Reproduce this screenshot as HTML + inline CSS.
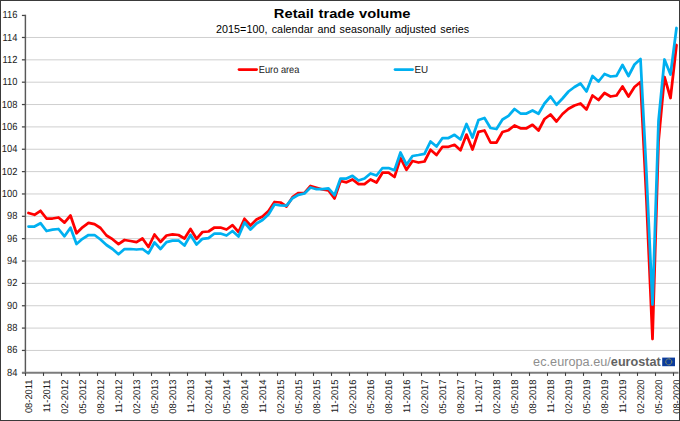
<!DOCTYPE html>
<html lang="en"><head><meta charset="utf-8"><title>Retail trade volume</title>
<style>
html,body{margin:0;padding:0;background:#fff;}
body{width:680px;height:421px;overflow:hidden;}
svg{display:block;font-family:"Liberation Sans",sans-serif;}
.g{stroke:#cfcfcf;stroke-width:1;}
.ax{stroke:#585858;stroke-width:1.45;}
.lab{font-size:10.3px;fill:#202020;text-rendering:geometricPrecision;}
.xl{font-size:9.7px;}
.title{font-size:14.7px;font-weight:bold;fill:#000;word-spacing:0.6px;}
.sub{font-size:10.75px;fill:#000;word-spacing:1.0px;letter-spacing:0.06px;}
.wm{font-size:12.65px;}
.s{fill:none;stroke-width:2.75;stroke-linejoin:round;stroke-linecap:round;}
</style></head><body>
<svg width="680" height="421" viewBox="0 0 680 421">
<rect width="680" height="421" fill="#fff"/>
<line x1="26" y1="350.44" x2="678.5" y2="350.44" class="g"/>
<line x1="26" y1="328.09" x2="678.5" y2="328.09" class="g"/>
<line x1="26" y1="305.74" x2="678.5" y2="305.74" class="g"/>
<line x1="26" y1="283.38" x2="678.5" y2="283.38" class="g"/>
<line x1="26" y1="261.02" x2="678.5" y2="261.02" class="g"/>
<line x1="26" y1="238.67" x2="678.5" y2="238.67" class="g"/>
<line x1="26" y1="216.31" x2="678.5" y2="216.31" class="g"/>
<line x1="26" y1="193.96" x2="678.5" y2="193.96" class="g"/>
<line x1="26" y1="171.61" x2="678.5" y2="171.61" class="g"/>
<line x1="26" y1="149.25" x2="678.5" y2="149.25" class="g"/>
<line x1="26" y1="126.90" x2="678.5" y2="126.90" class="g"/>
<line x1="26" y1="104.54" x2="678.5" y2="104.54" class="g"/>
<line x1="26" y1="82.19" x2="678.5" y2="82.19" class="g"/>
<line x1="26" y1="59.83" x2="678.5" y2="59.83" class="g"/>
<line x1="26" y1="37.48" x2="678.5" y2="37.48" class="g"/>
<line x1="21.9" y1="372.80" x2="25.5" y2="372.80" style="stroke:#444;stroke-width:1.25"/>
<text transform="translate(17.4,376) scale(0.905,1)" class="lab" text-anchor="end">84</text>
<line x1="21.9" y1="350.44" x2="25.5" y2="350.44" style="stroke:#444;stroke-width:1.25"/>
<text transform="translate(17.4,353) scale(0.905,1)" class="lab" text-anchor="end">86</text>
<line x1="21.9" y1="328.09" x2="25.5" y2="328.09" style="stroke:#444;stroke-width:1.25"/>
<text transform="translate(17.4,331) scale(0.905,1)" class="lab" text-anchor="end">88</text>
<line x1="21.9" y1="305.74" x2="25.5" y2="305.74" style="stroke:#444;stroke-width:1.25"/>
<text transform="translate(17.4,309) scale(0.905,1)" class="lab" text-anchor="end">90</text>
<line x1="21.9" y1="283.38" x2="25.5" y2="283.38" style="stroke:#444;stroke-width:1.25"/>
<text transform="translate(17.4,286) scale(0.905,1)" class="lab" text-anchor="end">92</text>
<line x1="21.9" y1="261.02" x2="25.5" y2="261.02" style="stroke:#444;stroke-width:1.25"/>
<text transform="translate(17.4,264) scale(0.905,1)" class="lab" text-anchor="end">94</text>
<line x1="21.9" y1="238.67" x2="25.5" y2="238.67" style="stroke:#444;stroke-width:1.25"/>
<text transform="translate(17.4,242) scale(0.905,1)" class="lab" text-anchor="end">96</text>
<line x1="21.9" y1="216.31" x2="25.5" y2="216.31" style="stroke:#444;stroke-width:1.25"/>
<text transform="translate(17.4,219) scale(0.905,1)" class="lab" text-anchor="end">98</text>
<line x1="21.9" y1="193.96" x2="25.5" y2="193.96" style="stroke:#444;stroke-width:1.25"/>
<text transform="translate(17.4,197) scale(0.905,1)" class="lab" text-anchor="end">100</text>
<line x1="21.9" y1="171.61" x2="25.5" y2="171.61" style="stroke:#444;stroke-width:1.25"/>
<text transform="translate(17.4,175) scale(0.905,1)" class="lab" text-anchor="end">102</text>
<line x1="21.9" y1="149.25" x2="25.5" y2="149.25" style="stroke:#444;stroke-width:1.25"/>
<text transform="translate(17.4,152) scale(0.905,1)" class="lab" text-anchor="end">104</text>
<line x1="21.9" y1="126.90" x2="25.5" y2="126.90" style="stroke:#444;stroke-width:1.25"/>
<text transform="translate(17.4,130) scale(0.905,1)" class="lab" text-anchor="end">106</text>
<line x1="21.9" y1="104.54" x2="25.5" y2="104.54" style="stroke:#444;stroke-width:1.25"/>
<text transform="translate(17.4,108) scale(0.905,1)" class="lab" text-anchor="end">108</text>
<line x1="21.9" y1="82.19" x2="25.5" y2="82.19" style="stroke:#444;stroke-width:1.25"/>
<text transform="translate(17.4,85) scale(0.905,1)" class="lab" text-anchor="end">110</text>
<line x1="21.9" y1="59.83" x2="25.5" y2="59.83" style="stroke:#444;stroke-width:1.25"/>
<text transform="translate(17.4,63) scale(0.905,1)" class="lab" text-anchor="end">112</text>
<line x1="21.9" y1="37.48" x2="25.5" y2="37.48" style="stroke:#444;stroke-width:1.25"/>
<text transform="translate(17.4,41) scale(0.905,1)" class="lab" text-anchor="end">114</text>
<line x1="21.9" y1="15.45" x2="25.5" y2="15.45" style="stroke:#444;stroke-width:1.25"/>
<text transform="translate(17.4,18) scale(0.905,1)" class="lab" text-anchor="end">116</text>
<line x1="25.4" y1="14.65" x2="25.4" y2="373.5" class="ax"/>
<line x1="22" y1="372.8" x2="678.5" y2="372.8" style="stroke:#7c7c7c;stroke-width:2"/>
<line x1="25.5" y1="372.6" x2="25.5" y2="375.90000000000003" style="stroke:#3c3c3c;stroke-width:1.1"/>
<line x1="43.5" y1="372.6" x2="43.5" y2="375.90000000000003" style="stroke:#3c3c3c;stroke-width:1.1"/>
<line x1="61.5" y1="372.6" x2="61.5" y2="375.90000000000003" style="stroke:#3c3c3c;stroke-width:1.1"/>
<line x1="79.5" y1="372.6" x2="79.5" y2="375.90000000000003" style="stroke:#3c3c3c;stroke-width:1.1"/>
<line x1="97.5" y1="372.6" x2="97.5" y2="375.90000000000003" style="stroke:#3c3c3c;stroke-width:1.1"/>
<line x1="115.5" y1="372.6" x2="115.5" y2="375.90000000000003" style="stroke:#3c3c3c;stroke-width:1.1"/>
<line x1="133.5" y1="372.6" x2="133.5" y2="375.90000000000003" style="stroke:#3c3c3c;stroke-width:1.1"/>
<line x1="151.5" y1="372.6" x2="151.5" y2="375.90000000000003" style="stroke:#3c3c3c;stroke-width:1.1"/>
<line x1="169.5" y1="372.6" x2="169.5" y2="375.90000000000003" style="stroke:#3c3c3c;stroke-width:1.1"/>
<line x1="187.5" y1="372.6" x2="187.5" y2="375.90000000000003" style="stroke:#3c3c3c;stroke-width:1.1"/>
<line x1="205.5" y1="372.6" x2="205.5" y2="375.90000000000003" style="stroke:#3c3c3c;stroke-width:1.1"/>
<line x1="223.5" y1="372.6" x2="223.5" y2="375.90000000000003" style="stroke:#3c3c3c;stroke-width:1.1"/>
<line x1="241.5" y1="372.6" x2="241.5" y2="375.90000000000003" style="stroke:#3c3c3c;stroke-width:1.1"/>
<line x1="259.5" y1="372.6" x2="259.5" y2="375.90000000000003" style="stroke:#3c3c3c;stroke-width:1.1"/>
<line x1="277.5" y1="372.6" x2="277.5" y2="375.90000000000003" style="stroke:#3c3c3c;stroke-width:1.1"/>
<line x1="295.5" y1="372.6" x2="295.5" y2="375.90000000000003" style="stroke:#3c3c3c;stroke-width:1.1"/>
<line x1="313.5" y1="372.6" x2="313.5" y2="375.90000000000003" style="stroke:#3c3c3c;stroke-width:1.1"/>
<line x1="331.5" y1="372.6" x2="331.5" y2="375.90000000000003" style="stroke:#3c3c3c;stroke-width:1.1"/>
<line x1="349.5" y1="372.6" x2="349.5" y2="375.90000000000003" style="stroke:#3c3c3c;stroke-width:1.1"/>
<line x1="367.5" y1="372.6" x2="367.5" y2="375.90000000000003" style="stroke:#3c3c3c;stroke-width:1.1"/>
<line x1="385.5" y1="372.6" x2="385.5" y2="375.90000000000003" style="stroke:#3c3c3c;stroke-width:1.1"/>
<line x1="403.5" y1="372.6" x2="403.5" y2="375.90000000000003" style="stroke:#3c3c3c;stroke-width:1.1"/>
<line x1="421.5" y1="372.6" x2="421.5" y2="375.90000000000003" style="stroke:#3c3c3c;stroke-width:1.1"/>
<line x1="439.5" y1="372.6" x2="439.5" y2="375.90000000000003" style="stroke:#3c3c3c;stroke-width:1.1"/>
<line x1="457.5" y1="372.6" x2="457.5" y2="375.90000000000003" style="stroke:#3c3c3c;stroke-width:1.1"/>
<line x1="475.5" y1="372.6" x2="475.5" y2="375.90000000000003" style="stroke:#3c3c3c;stroke-width:1.1"/>
<line x1="493.5" y1="372.6" x2="493.5" y2="375.90000000000003" style="stroke:#3c3c3c;stroke-width:1.1"/>
<line x1="511.5" y1="372.6" x2="511.5" y2="375.90000000000003" style="stroke:#3c3c3c;stroke-width:1.1"/>
<line x1="529.5" y1="372.6" x2="529.5" y2="375.90000000000003" style="stroke:#3c3c3c;stroke-width:1.1"/>
<line x1="547.5" y1="372.6" x2="547.5" y2="375.90000000000003" style="stroke:#3c3c3c;stroke-width:1.1"/>
<line x1="565.5" y1="372.6" x2="565.5" y2="375.90000000000003" style="stroke:#3c3c3c;stroke-width:1.1"/>
<line x1="583.5" y1="372.6" x2="583.5" y2="375.90000000000003" style="stroke:#3c3c3c;stroke-width:1.1"/>
<line x1="601.5" y1="372.6" x2="601.5" y2="375.90000000000003" style="stroke:#3c3c3c;stroke-width:1.1"/>
<line x1="619.5" y1="372.6" x2="619.5" y2="375.90000000000003" style="stroke:#3c3c3c;stroke-width:1.1"/>
<line x1="637.5" y1="372.6" x2="637.5" y2="375.90000000000003" style="stroke:#3c3c3c;stroke-width:1.1"/>
<line x1="655.5" y1="372.6" x2="655.5" y2="375.90000000000003" style="stroke:#3c3c3c;stroke-width:1.1"/>
<line x1="673.5" y1="372.6" x2="673.5" y2="375.90000000000003" style="stroke:#3c3c3c;stroke-width:1.1"/>
<text transform="translate(31.85,379.5) rotate(-90) scale(0.965,1)" class="lab xl" text-anchor="end">08-2011</text>
<text transform="translate(49.85,379.5) rotate(-90) scale(0.965,1)" class="lab xl" text-anchor="end">11-2011</text>
<text transform="translate(67.85,379.5) rotate(-90) scale(0.965,1)" class="lab xl" text-anchor="end">02-2012</text>
<text transform="translate(85.85,379.5) rotate(-90) scale(0.965,1)" class="lab xl" text-anchor="end">05-2012</text>
<text transform="translate(103.85,379.5) rotate(-90) scale(0.965,1)" class="lab xl" text-anchor="end">08-2012</text>
<text transform="translate(121.85,379.5) rotate(-90) scale(0.965,1)" class="lab xl" text-anchor="end">11-2012</text>
<text transform="translate(139.85,379.5) rotate(-90) scale(0.965,1)" class="lab xl" text-anchor="end">02-2013</text>
<text transform="translate(157.85,379.5) rotate(-90) scale(0.965,1)" class="lab xl" text-anchor="end">05-2013</text>
<text transform="translate(175.85,379.5) rotate(-90) scale(0.965,1)" class="lab xl" text-anchor="end">08-2013</text>
<text transform="translate(193.85,379.5) rotate(-90) scale(0.965,1)" class="lab xl" text-anchor="end">11-2013</text>
<text transform="translate(211.85,379.5) rotate(-90) scale(0.965,1)" class="lab xl" text-anchor="end">02-2014</text>
<text transform="translate(229.85,379.5) rotate(-90) scale(0.965,1)" class="lab xl" text-anchor="end">05-2014</text>
<text transform="translate(247.85,379.5) rotate(-90) scale(0.965,1)" class="lab xl" text-anchor="end">08-2014</text>
<text transform="translate(265.85,379.5) rotate(-90) scale(0.965,1)" class="lab xl" text-anchor="end">11-2014</text>
<text transform="translate(283.85,379.5) rotate(-90) scale(0.965,1)" class="lab xl" text-anchor="end">02-2015</text>
<text transform="translate(301.85,379.5) rotate(-90) scale(0.965,1)" class="lab xl" text-anchor="end">05-2015</text>
<text transform="translate(319.85,379.5) rotate(-90) scale(0.965,1)" class="lab xl" text-anchor="end">08-2015</text>
<text transform="translate(337.85,379.5) rotate(-90) scale(0.965,1)" class="lab xl" text-anchor="end">11-2015</text>
<text transform="translate(355.85,379.5) rotate(-90) scale(0.965,1)" class="lab xl" text-anchor="end">02-2016</text>
<text transform="translate(373.85,379.5) rotate(-90) scale(0.965,1)" class="lab xl" text-anchor="end">05-2016</text>
<text transform="translate(391.85,379.5) rotate(-90) scale(0.965,1)" class="lab xl" text-anchor="end">08-2016</text>
<text transform="translate(409.85,379.5) rotate(-90) scale(0.965,1)" class="lab xl" text-anchor="end">11-2016</text>
<text transform="translate(427.85,379.5) rotate(-90) scale(0.965,1)" class="lab xl" text-anchor="end">02-2017</text>
<text transform="translate(445.85,379.5) rotate(-90) scale(0.965,1)" class="lab xl" text-anchor="end">05-2017</text>
<text transform="translate(463.85,379.5) rotate(-90) scale(0.965,1)" class="lab xl" text-anchor="end">08-2017</text>
<text transform="translate(481.85,379.5) rotate(-90) scale(0.965,1)" class="lab xl" text-anchor="end">11-2017</text>
<text transform="translate(499.85,379.5) rotate(-90) scale(0.965,1)" class="lab xl" text-anchor="end">02-2018</text>
<text transform="translate(517.85,379.5) rotate(-90) scale(0.965,1)" class="lab xl" text-anchor="end">05-2018</text>
<text transform="translate(535.85,379.5) rotate(-90) scale(0.965,1)" class="lab xl" text-anchor="end">08-2018</text>
<text transform="translate(553.85,379.5) rotate(-90) scale(0.965,1)" class="lab xl" text-anchor="end">11-2018</text>
<text transform="translate(571.85,379.5) rotate(-90) scale(0.965,1)" class="lab xl" text-anchor="end">02-2019</text>
<text transform="translate(589.85,379.5) rotate(-90) scale(0.965,1)" class="lab xl" text-anchor="end">05-2019</text>
<text transform="translate(607.85,379.5) rotate(-90) scale(0.965,1)" class="lab xl" text-anchor="end">08-2019</text>
<text transform="translate(625.85,379.5) rotate(-90) scale(0.965,1)" class="lab xl" text-anchor="end">11-2019</text>
<text transform="translate(643.85,379.5) rotate(-90) scale(0.965,1)" class="lab xl" text-anchor="end">02-2020</text>
<text transform="translate(661.85,379.5) rotate(-90) scale(0.965,1)" class="lab xl" text-anchor="end">05-2020</text>
<text transform="translate(679.85,379.5) rotate(-90) scale(0.965,1)" class="lab xl" text-anchor="end">08-2020</text>
<g><text x="533.1" y="365.9" class="wm"><tspan fill="#8e8e8e" letter-spacing="0.035">ec.europa.eu/</tspan><tspan font-weight="bold" fill="#626262">eurostat</tspan></text></g>
<rect x="662.2" y="357.6" width="12.8" height="8.6" fill="#0b3b9c"/>
<circle cx="668.75" cy="361.85" r="3.0" fill="none" stroke="#c9c043" stroke-width="0.85" stroke-dasharray="1.05 0.52"/>
<polyline points="28.5,213.0 34.5,214.8 40.5,210.8 46.5,218.5 52.5,218.5 58.5,217.5 64.5,222.6 70.5,215.5 76.5,233.3 82.5,227.3 88.5,222.8 94.5,224.2 100.5,228.0 106.5,235.5 112.5,239.2 118.5,244.1 124.5,240.0 130.5,241.0 136.5,242.2 142.5,238.5 148.5,247.0 154.5,234.5 160.5,242.0 166.5,235.5 172.5,234.3 178.5,235.0 184.5,238.5 190.5,229.0 196.5,238.8 202.5,232.0 208.5,231.5 214.5,227.5 220.5,227.5 226.5,229.5 232.5,225.2 238.5,232.0 244.5,218.8 250.5,225.5 256.5,219.5 262.5,216.5 268.5,211.0 274.5,202.0 280.5,202.5 286.5,206.5 292.5,197.2 298.5,193.0 304.5,192.8 310.5,186.0 316.5,187.8 322.5,189.5 328.5,190.5 334.5,198.5 340.5,181.0 346.5,182.3 352.5,179.5 358.5,184.2 364.5,184.2 370.5,179.5 376.5,182.5 382.5,172.7 388.5,172.7 394.5,177.0 400.5,158.0 406.5,169.8 412.5,161.0 418.5,162.5 424.5,161.5 430.5,149.8 436.5,155.0 442.5,146.8 448.5,146.8 454.5,144.8 460.5,150.3 466.5,134.6 472.5,149.5 478.5,131.8 484.5,130.5 490.5,142.5 496.5,142.5 502.5,132.0 508.5,130.2 514.5,125.5 520.5,128.3 526.5,128.3 532.5,124.8 538.5,130.5 544.5,119.0 550.5,114.5 556.5,121.5 562.5,114.0 568.5,108.8 574.5,105.5 580.5,103.5 586.5,109.5 592.5,95.5 598.5,100.0 604.5,93.0 610.5,96.5 616.5,95.5 622.5,86.5 628.5,96.5 634.5,87.0 640.5,82.0 646.5,201.0 652.5,339.0 658.5,141.7 664.5,77.0 670.5,98.0 676.5,45.0" class="s" stroke="#ff0000"/>
<polyline points="28.5,226.5 34.5,226.5 40.5,223.2 46.5,231.0 52.5,229.7 58.5,229.0 64.5,236.3 70.5,227.7 76.5,244.0 82.5,238.8 88.5,235.0 94.5,235.0 100.5,239.5 106.5,245.0 112.5,249.0 118.5,254.3 124.5,249.0 130.5,249.0 136.5,249.5 142.5,249.0 148.5,253.3 154.5,242.5 160.5,249.0 166.5,242.2 172.5,240.6 178.5,240.5 184.5,245.5 190.5,235.0 196.5,244.5 202.5,238.8 208.5,238.2 214.5,233.5 220.5,233.5 226.5,235.5 232.5,231.0 238.5,236.5 244.5,222.5 250.5,229.5 256.5,223.5 262.5,220.0 268.5,214.5 274.5,204.5 280.5,205.5 286.5,205.7 292.5,198.2 298.5,194.8 304.5,193.5 310.5,187.5 316.5,189.2 322.5,189.2 328.5,188.3 334.5,195.2 340.5,178.5 346.5,178.5 352.5,175.8 358.5,180.5 364.5,178.5 370.5,173.5 376.5,175.5 382.5,168.0 388.5,168.0 394.5,170.2 400.5,152.5 406.5,164.7 412.5,156.0 418.5,155.0 424.5,153.8 430.5,141.5 436.5,146.5 442.5,138.0 448.5,138.0 454.5,134.8 460.5,139.5 466.5,124.0 472.5,137.5 478.5,120.0 484.5,118.0 490.5,128.0 496.5,129.0 502.5,119.5 508.5,115.8 514.5,109.0 520.5,113.5 526.5,113.5 532.5,110.5 538.5,113.8 544.5,103.5 550.5,96.5 556.5,104.8 562.5,98.5 568.5,91.5 574.5,87.0 580.5,83.5 586.5,91.5 592.5,76.0 598.5,81.5 604.5,74.0 610.5,76.5 616.5,75.8 622.5,65.0 628.5,76.0 634.5,64.5 640.5,59.0 646.5,174.0 652.5,304.5 658.5,121.0 664.5,59.5 670.5,74.5 676.5,28.0" class="s" stroke="#00b0f0"/>
<line x1="239" y1="69.6" x2="256.6" y2="69.6" class="s" stroke="#ff0000"/>
<text transform="translate(258.8,72.5) scale(0.897,1)" class="lab">Euro area</text>
<line x1="395" y1="69.6" x2="412.6" y2="69.6" class="s" stroke="#00b0f0"/>
<text transform="translate(414.4,72.5) scale(0.955,1)" class="lab">EU</text>
<text transform="translate(342.2,18.0) scale(1,0.9)" class="title" text-anchor="middle">Retail trade volume</text>
<text x="342.6" y="32.5" class="sub" text-anchor="middle">2015=100, calendar and seasonally adjusted series</text>
<rect x="0.5" y="0.5" width="679" height="420" fill="none" stroke="#3a3a3a" stroke-width="1"/>
</svg>
</body></html>
